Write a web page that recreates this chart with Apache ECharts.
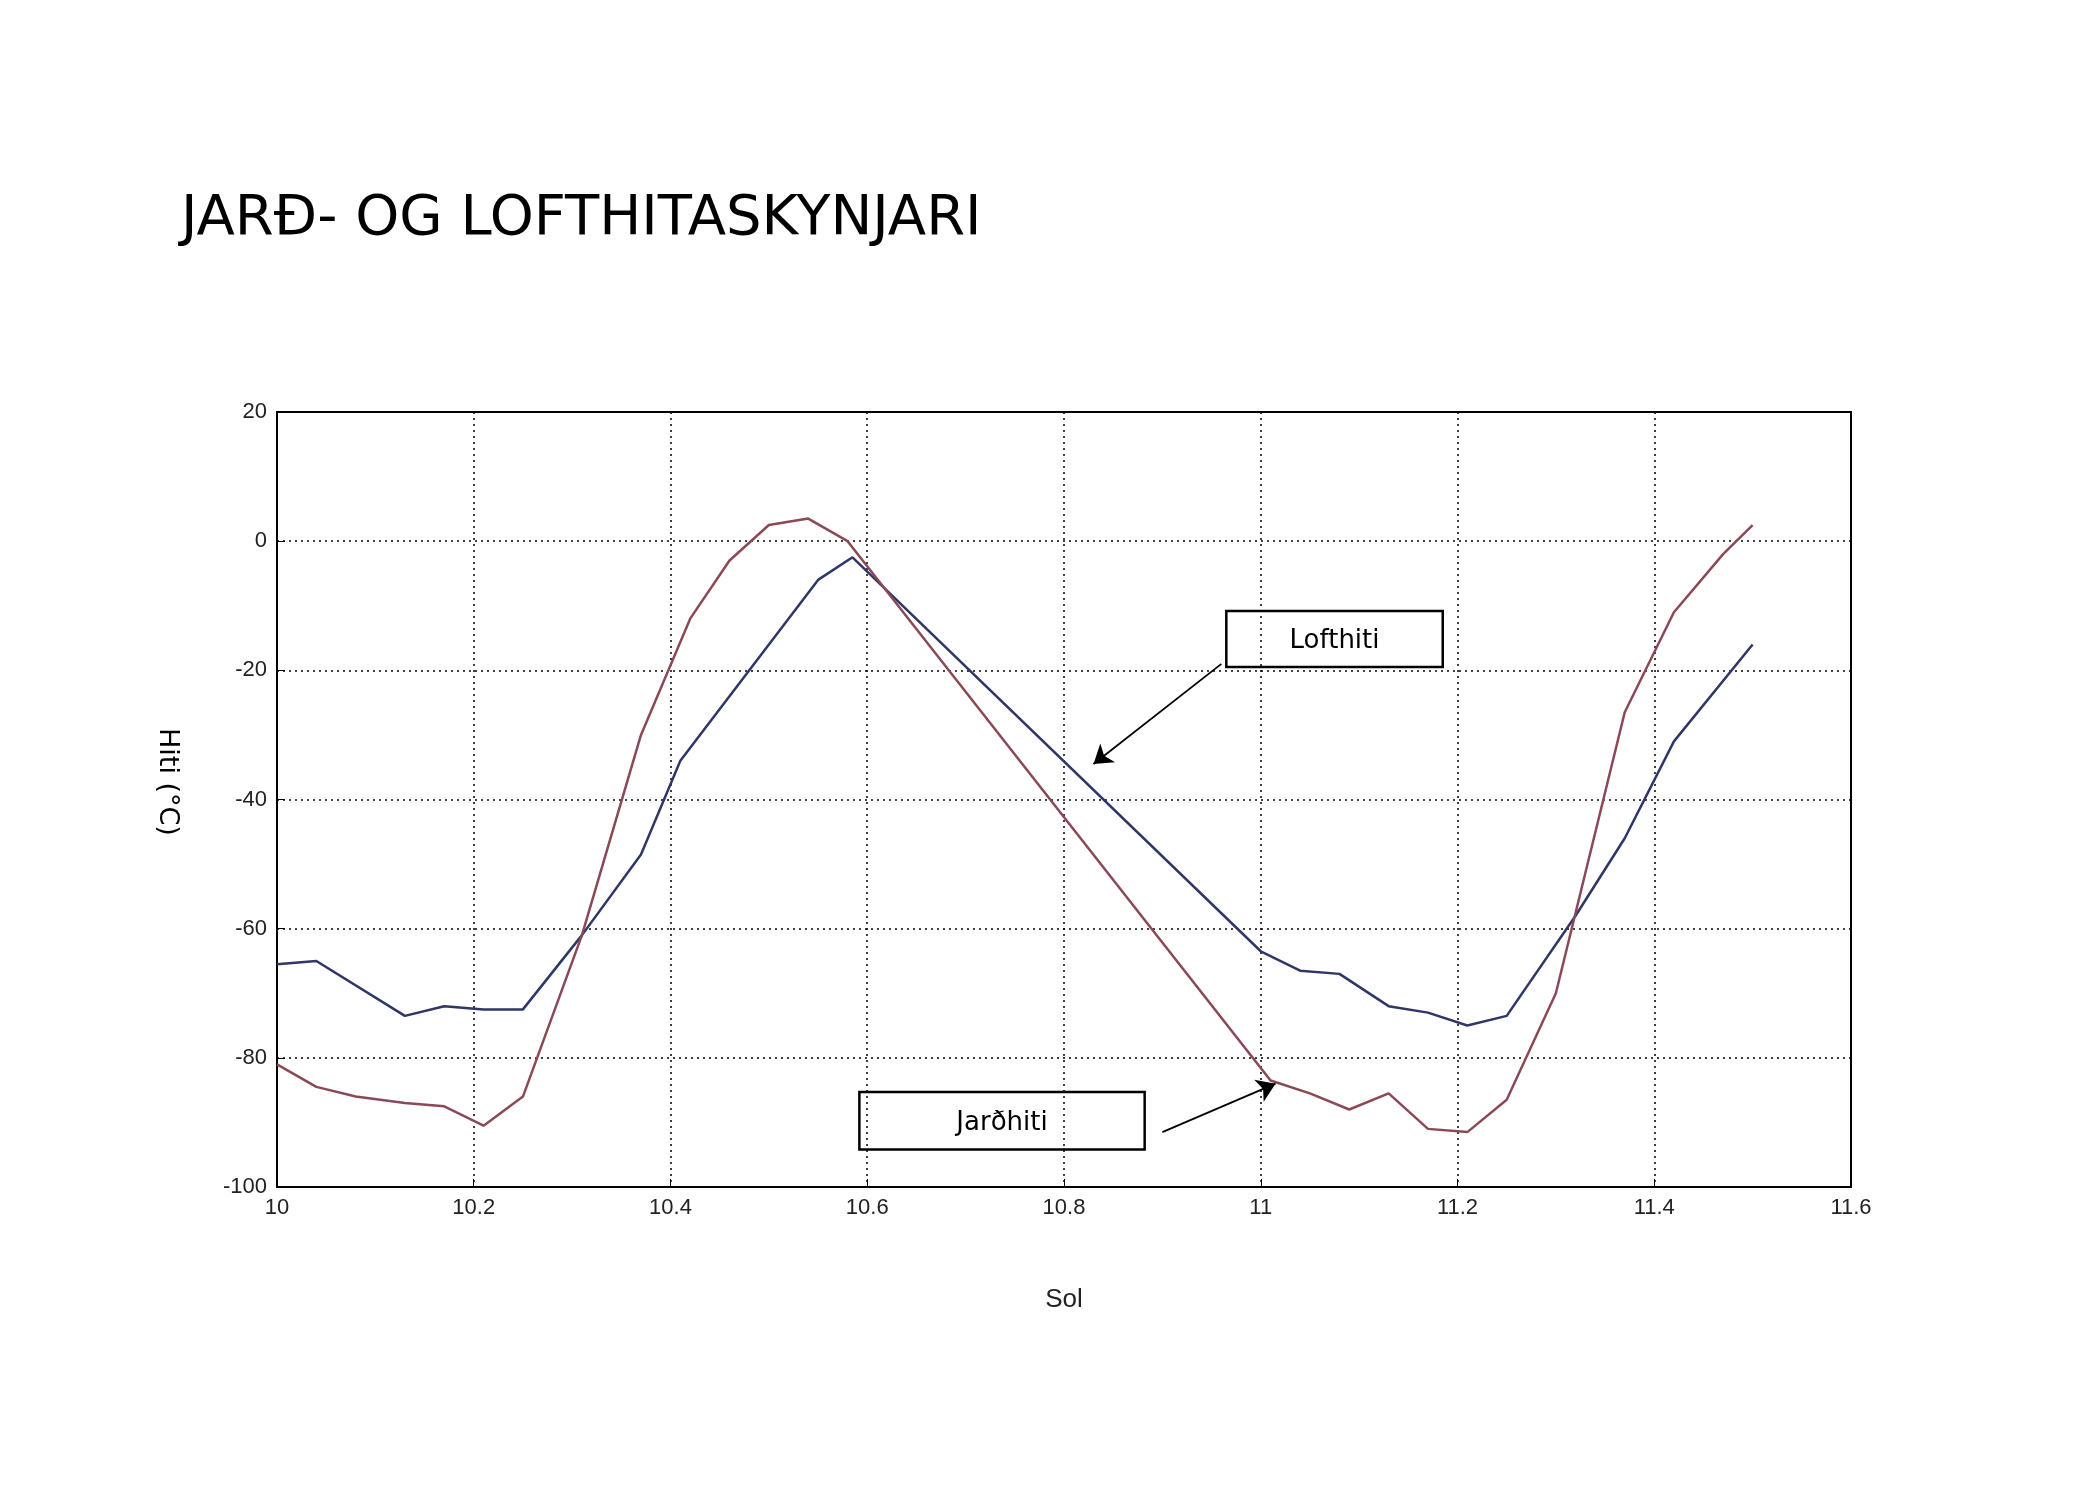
<!DOCTYPE html>
<html>
<head>
<meta charset="utf-8">
<script src="https://cdn.jsdelivr.net/npm/echarts@6/dist/echarts.min.js"></script>
<style>body{margin:0;background:#fff}#main{width:2100px;height:1500px}</style>
</head>
<body>
<div id="main"></div>
<script>
// Lofthiti (blue)
var loftX = [10.00, 10.04, 10.13, 10.17, 10.21, 10.25, 10.31, 10.37, 10.41, 10.55, 10.585, 11.00, 11.04, 11.08, 11.13, 11.17, 11.21, 11.25, 11.32, 11.37, 11.42, 11.50];
var loftY = [-65.5, -65, -73.5, -72, -72.5, -72.5, -61, -48.5, -34, -6, -2.5, -63.5, -66.5, -67, -72, -73, -75, -73.5, -58, -46, -31, -16];
// Jarðhiti (red)
var jardX = [10.00, 10.04, 10.08, 10.13, 10.17, 10.21, 10.25, 10.31, 10.37, 10.42, 10.46, 10.50, 10.54, 10.58, 11.01, 11.05, 11.09, 11.13, 11.17, 11.21, 11.25, 11.30, 11.37, 11.42, 11.47, 11.50];
var jardY = [-81, -84.5, -86, -87, -87.5, -90.5, -86, -61, -30, -12, -3, 2.5, 3.5, 0, -83.5, -85.5, -88, -85.5, -91, -91.5, -86.5, -70, -26.5, -11, -2, 2.5];

function pairs(xs, ys) {
    var out = [];
    for (var i = 0; i < xs.length; i++) out.push([xs[i], ys[i]]);
    return out;
}

var myChart = echarts.init(document.getElementById('main'));
var tickFont = { fontFamily: 'Liberation Sans', fontSize: 22, color: '#222' };
var option = {
    animation: false,
    backgroundColor: '#fff',
    title: {
        text: 'JARÐ- OG LOFTHITASKYNJARI',
        left: 176, top: 186,
        textStyle: { fontFamily: 'DejaVu Sans', fontWeight: 'normal', fontSize: 56, color: '#000' }
    },
    grid: { left: 277, right: 249, top: 412, bottom: 313, show: true, borderColor: '#000', borderWidth: 2 },
    xAxis: {
        type: 'value', min: 10, max: 11.6, interval: 0.2,
        name: 'Sol', nameLocation: 'middle', nameGap: 100,
        nameTextStyle: { fontFamily: 'Liberation Sans', fontSize: 26, color: '#222' },
        axisLine: { onZero: false, lineStyle: { color: '#000', width: 2 } },
        axisTick: { inside: true, length: 8, lineStyle: { color: '#000' } },
        axisLabel: Object.assign({ margin: 10, formatter: function (v) { return +v.toFixed(1); } }, tickFont),
        splitLine: { lineStyle: { color: '#000', type: [2, 4], width: 1.5 } }
    },
    yAxis: {
        type: 'value', min: -100, max: 20, interval: 20,
        axisLine: { show: true, lineStyle: { color: '#000', width: 2 } },
        axisTick: { show: true, inside: true, length: 8, lineStyle: { color: '#000' } },
        axisLabel: Object.assign({ margin: 10 }, tickFont),
        splitLine: { lineStyle: { color: '#000', type: [2, 4], width: 1.5 } }
    },
    graphic: [{
        type: 'text', left: 154, top: 728, rotation: -Math.PI / 2,
        style: { text: 'Hiti (°C)', font: '27px DejaVu Sans', fill: '#000' }
    }],
    series: [{
        name: 'Lofthiti', type: 'line', showSymbol: false,
        data: pairs(loftX, loftY),
        lineStyle: { color: '#2f3767', width: 2.5 },
        markLine: {
            silent: true, symbol: ['none', 'arrow'], symbolSize: 18,
            label: { show: false },
            lineStyle: { color: '#000', type: 'solid', width: 1.8 },
            data: [[{ coord: [10.96, -19] }, { coord: [10.83, -34.5] }]]
        }
    }, {
        name: 'Jarðhiti', type: 'line', showSymbol: false,
        data: pairs(jardX, jardY),
        lineStyle: { color: '#8a4a55', width: 2.5 },
        markLine: {
            silent: true, symbol: ['none', 'arrow'], symbolSize: 18,
            label: { show: false },
            lineStyle: { color: '#000', type: 'solid', width: 1.8 },
            data: [[{ coord: [10.9, -91.5] }, { coord: [11.015, -84] }]]
        }
    }]
};
myChart.setOption(option);

// annotation boxes positioned in data space
function box(x0, y0, x1, y1, txt) {
    var a = myChart.convertToPixel({ gridIndex: 0 }, [x0, y0]);
    var b = myChart.convertToPixel({ gridIndex: 0 }, [x1, y1]);
    return {
        type: 'group', z: 100,
        children: [{
            type: 'rect', shape: { x: a[0], y: a[1], width: b[0] - a[0], height: b[1] - a[1] },
            style: { fill: '#fff', stroke: '#000', lineWidth: 2.5 }
        }, {
            type: 'text', x: (a[0] + b[0]) / 2, y: (a[1] + b[1]) / 2 + 2,
            style: { text: txt, font: '26px DejaVu Sans', fill: '#000', align: 'center', verticalAlign: 'middle' }
        }]
    };
}
var g = option.graphic.slice();
g.push(box(10.965, -10.8, 11.185, -19.5, 'Lofthiti'));
g.push(box(10.592, -85.3, 10.882, -94.2, 'Jarðhiti'));
myChart.setOption({ graphic: g });
</script>
</body>
</html>
